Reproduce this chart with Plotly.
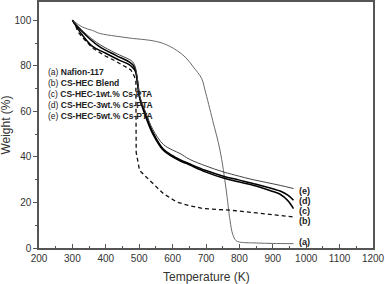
import plotly.graph_objects as go

# (a) Nafion-117
t_a = [300, 330, 360, 382, 430, 480, 532, 572, 612, 640, 662, 687, 697, 720, 742, 760, 772, 780, 790, 800, 850, 900, 962]
w_a = [100, 97, 95.5, 94.2, 93, 92, 91.2, 89.8, 86.8, 83.5, 79.5, 74.4, 69.3, 56, 42.9, 26, 12, 6, 3.2, 2.6, 2.2, 2.0, 1.9]

# (b) CS-HEC Blend
t_b = [300, 310, 316, 330, 360, 400, 430, 460, 475, 485, 490, 491, 495, 501, 521, 540, 552, 572, 612, 650, 692, 772, 852, 900, 962]
w_b = [100, 97.5, 95, 92.5, 87.8, 84.2, 82, 79.6, 78.2, 75.5, 73.5, 42, 38, 34.1, 31.2, 28.5, 26.8, 23.9, 20.2, 18.6, 17.3, 16.6, 15.4, 14.6, 13.6]

# (c) CS-HEC-1wt.% Cs-PTA
t_c = [300, 322, 360, 400, 440, 470, 485, 490, 495, 501, 521, 541, 572, 600, 622, 650, 700, 752, 800, 850, 900, 922, 945, 962]
w_c = [100, 95, 88.5, 85.5, 82.5, 80.5, 78.5, 77, 72, 66, 57, 50, 42.9, 40, 38.3, 36.5, 33.3, 30.7, 29, 27.2, 24.8, 23.6, 20.8, 17.3]

# (d) CS-HEC-3wt.% Cs-PTA
t_d = [300, 326, 380, 430, 470, 482, 488, 492, 497, 501, 521, 541, 572, 600, 622, 650, 700, 752, 800, 850, 900, 922, 945, 962]
w_d = [100, 95.5, 88.5, 84.6, 81.7, 80.2, 78.5, 76, 71, 66.5, 58, 50.8, 43.5, 40.5, 38.8, 37, 34, 31.5, 29.8, 28, 26, 25, 23.2, 21]

# (e) CS-HEC-5wt.% Cs-PTA
t_e = [300, 326, 350, 380, 430, 470, 480, 487, 492, 497, 501, 521, 541, 572, 600, 622, 650, 700, 752, 800, 832, 880, 922, 962]
w_e = [100, 96, 92.8, 89.5, 85.5, 82.8, 81.8, 80, 77, 71.5, 67, 59, 52, 45.5, 43, 41.5, 39, 36, 33.4, 31.5, 30.3, 28.8, 27.5, 26.1]

legend_labels = ["(a) <b>Nafion-117</b>", "(b) <b>CS-HEC Blend</b>", "(c) <b>CS-HEC-1wt.% Cs-PTA</b>",
                 "(d) <b>CS-HEC-3wt.% Cs-PTA</b>", "(e) <b>CS-HEC-5wt.% Cs-PTA</b>"]
end_labels = ["(a)", "(b)", "(c)", "(d)", "(e)"]
end_label_y = [2.6, 12, 16.3, 20.7, 25.2]

x_ticks = [200, 300, 400, 500, 600, 700, 800, 900, 1000, 1100, 1200]
y_ticks = [0, 20, 40, 60, 80, 100]

FONT = "Liberation Sans, Arial"

fig = go.Figure()
fig.add_trace(go.Scatter(x=t_a, y=w_a, mode="lines", line=dict(color="#6a6a6a", width=1), line_shape="spline"))
fig.add_trace(go.Scatter(x=t_b, y=w_b, mode="lines", line=dict(color="#111", width=1.3, dash="4px,3px"), line_shape="linear"))
fig.add_trace(go.Scatter(x=t_c, y=w_c, mode="lines", line=dict(color="#000", width=1.5), line_shape="spline"))
fig.add_trace(go.Scatter(x=t_d, y=w_d, mode="lines", line=dict(color="#000", width=1.5), line_shape="spline"))
fig.add_trace(go.Scatter(x=t_e, y=w_e, mode="lines", line=dict(color="#444", width=1), line_shape="spline"))

for i, lab in enumerate(legend_labels):
    fig.add_annotation(x=0.022, xref="paper", y=0.715 - i * 0.0445, yref="paper", text=lab,
                       showarrow=False, xanchor="left", yanchor="middle",
                       font=dict(size=8.5, color="#222", family=FONT))

for lab, yy in zip(end_labels, end_label_y):
    fig.add_annotation(x=972, y=yy, text="<b>" + lab + "</b>", showarrow=False, xanchor="left",
                       yanchor="middle", font=dict(size=9, color="#222", family=FONT))

fig.add_annotation(x=0.5, xref="paper", y=-0.08, yref="paper", text="Temperature (K)",
                   showarrow=False, xanchor="center", yanchor="top",
                   font=dict(size=12, color="#333", family=FONT))
fig.add_annotation(x=-0.1, xref="paper", y=0.5, yref="paper", text="Weight (%)", textangle=-90,
                   showarrow=False, xanchor="center", yanchor="middle",
                   font=dict(size=12, color="#333", family=FONT))

axis_common = dict(showline=True, linecolor="#555", linewidth=1.5, mirror=True, showgrid=False,
                   zeroline=False, tickcolor="#555", ticklen=4, tickwidth=1, automargin=False,
                   tickfont=dict(size=10, color="#333", family=FONT))

fig.update_xaxes(range=[200, 1200], tickvals=x_ticks, ticks="inside",
                 minor=dict(dtick=50, ticks="inside", ticklen=2.5, tickcolor="#555"),
                 **axis_common)
fig.update_yaxes(range=[0, 108], tickvals=y_ticks, ticks="outside",
                 minor=dict(dtick=10, ticks="outside", ticklen=2.5, tickcolor="#555"),
                 **axis_common)

fig.update_layout(width=385, height=284, margin=dict(l=39, r=12, t=2, b=36),
                  plot_bgcolor="white", paper_bgcolor="white", showlegend=False)

fig.write_html("out.html", config={"displayModeBar": False},
               post_script="document.body.style.margin='0';document.body.style.overflow='hidden';")
